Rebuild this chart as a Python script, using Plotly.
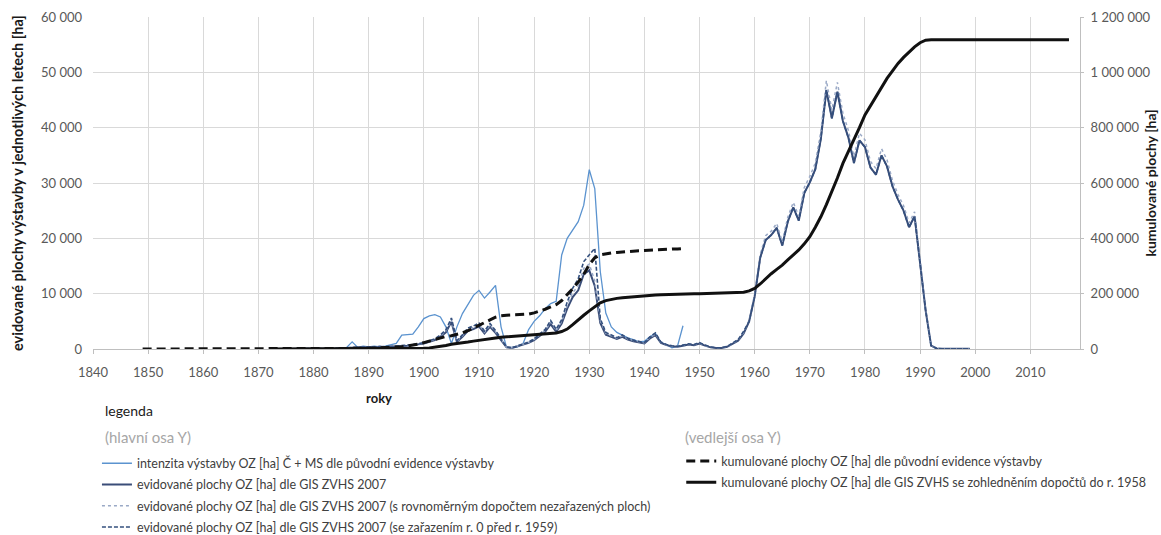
import plotly.graph_objects as go

# ---------------------------------------------------------------------------
# Data: annual areas of reclaimed / drained land (OZ) in hectares
# ---------------------------------------------------------------------------

# intenzita výstavby OZ [ha] Č + MS dle původní evidence výstavby (1885–1947)
years_orig = list(range(1885, 1948))
intenzita_orig = [
    0, 300, 1300, 300, 500,
    400, 500, 400, 500, 700, 1000, 2500, 2600, 2700, 4000,
    5500, 6000, 6200, 5800, 4000, 1000, 4000, 6400, 8000, 9700,
    10600, 9200, 10300, 11500, 4000, 300, 300, 400, 1000, 3500,
    5000, 6000, 7300, 8200, 8600, 17000, 20000, 21500, 23000, 26000,
    32400, 29000, 14000, 6500, 4000, 3000, 2500, 2000, 1700, 1300,
    1400, 2200, 2800, 1200, 800, 200, 500, 4200,
]

# GIS ZVHS 2007 based series (1872–1999)
years_gis = list(range(1872, 2000))
gis_2007 = [
    0, 0, 0, 0, 0, 0, 0, 0,
    0, 0, 50, 100, 100, 150, 200, 250, 200, 300,
    350, 300, 400, 350, 400, 500, 450, 600, 700, 800,
    1000, 1300, 1600, 2200, 3000, 4900, 1300, 2200, 3300, 3600,
    4100, 2800, 4000, 2900, 1700, 300, 200, 500, 800, 1100,
    1600, 2300, 3100, 4500, 3100, 4600, 7300, 9400, 10600, 13500,
    14200, 11400, 4700, 2600, 2200, 1800, 2200, 1700, 1400, 1200,
    1000, 1900, 2500, 1100, 700, 500, 400, 600, 800, 700,
    1000, 600, 300, 200, 200, 400, 900, 1500, 2800, 5000,
    9500, 16500, 19700, 20600, 21900, 18700, 23000, 25600, 23200, 28200,
    30100, 32500, 38000, 46800, 41700, 46500, 41200, 38200, 33600, 37700,
    36500, 32800, 31500, 35000, 33000, 29400, 27000, 25000, 22000, 24000,
    15500, 7000, 600, 100, 50, 50, 50, 50, 50, 50,
]
gis_2007_dopocet = [
    0, 0, 0, 0, 0, 0, 0, 0,
    0, 0, 60, 110, 110, 160, 220, 270, 220, 320,
    380, 330, 430, 380, 430, 540, 490, 650, 760, 860,
    1080, 1400, 1730, 2380, 3240, 5300, 1400, 2380, 3560, 3890,
    4430, 3020, 4320, 3130, 1840, 320, 220, 540, 860, 1190,
    1730, 2480, 3350, 4860, 3350, 4970, 7880, 10150, 11450, 14580,
    15340, 12310, 5080, 2810, 2380, 1940, 2380, 1840, 1510, 1300,
    1080, 2050, 2700, 1190, 760, 540, 430, 650, 860, 760,
    1080, 650, 320, 220, 220, 430, 970, 1620, 3020, 5200,
    9900, 17100, 20500, 21300, 22700, 19400, 23800, 26500, 24000, 29200,
    31200, 33600, 39300, 48500, 43200, 48200, 42600, 39500, 34800, 39000,
    37800, 33900, 32600, 36200, 34200, 30400, 27900, 25900, 22800, 24800,
    16000, 7200, 620, 100, 50, 50, 50, 50, 50, 50,
]
gis_2007_rok0 = [
    0, 0, 0, 0, 0, 0, 0, 0,
    0, 0, 60, 110, 120, 170, 230, 290, 230, 340,
    400, 350, 460, 400, 460, 580, 520, 690, 800, 920,
    1150, 1500, 1850, 2550, 3450, 5600, 1500, 2550, 3800, 4150,
    4700, 3250, 4600, 3350, 1950, 350, 230, 580, 920, 1250,
    1850, 2650, 3550, 5150, 3550, 5300, 8500, 11000, 12700, 15800,
    17000, 18200, 5500, 3000, 2550, 2050, 2550, 1950, 1600, 1400,
    1150, 2200, 2900, 1250, 800, 580, 460, 700, 920, 800,
    1150, 700, 350, 230, 230, 460, 1050, 1700, 3200, 5000,
    9500, 16500, 19700, 20600, 21900, 18700, 23000, 25600, 23200, 28200,
    30100, 32500, 38000, 46800, 41700, 46500, 41200, 38200, 33600, 37700,
    36500, 32800, 31500, 35000, 33000, 29400, 27000, 25000, 22000, 24000,
    15500, 7000, 600, 100, 50, 50, 50, 50, 50, 50,
]

# kumulované plochy OZ [ha] dle původní evidence výstavby (1849–1947)
years_cum_orig = list(range(1849, 1948))
kum_orig = [
    0,
    0, 0, 0, 0, 0, 0, 0, 0, 0, 0,
    0, 0, 0, 0, 0, 0, 0, 0, 0, 0,
    0, 0, 0, 0, 0, 0, 0, 0, 0, 0,
    0, 0, 0, 0, 0, 0, 300, 1600, 1900, 2400,
    2800, 3300, 3700, 4200, 4900, 5900, 8400, 11000, 13700, 17700,
    23200, 29200, 35400, 41200, 45200, 48000, 52000, 58000, 66000, 75000,
    86000, 95000, 105000, 115000, 120000, 122000, 122500, 123000, 124000, 126000,
    130400, 136400, 143700, 151900, 160500, 175000, 195000, 218000, 242000, 270000,
    305000, 330000, 340000, 344000, 347000, 349000, 351000, 352500, 354000, 355000,
    356000, 357500, 359000, 360000, 360500, 361000, 361500, 363000,
]

# kumulované plochy OZ [ha] dle GIS ZVHS se zohledněním dopočtů (1872–2017)
years_cum_gis = list(range(1872, 2018))
kum_gis = [
    0, 0, 0, 0, 0, 0, 0, 0,
    0, 0, 0, 0, 0, 0, 100, 300, 400, 500,
    600, 700, 800, 900, 1000, 1200, 1400, 1600, 1800, 2100,
    2500, 4000, 6000, 9000, 12500, 17000, 19000, 21500, 25000, 28500,
    32000, 34500, 37500, 40000, 42500, 44000, 44500, 45500, 46500, 48000,
    49500, 51000, 53000, 55500, 58000, 63000, 72000, 88000, 106000, 122000,
    138000, 154000, 167000, 175000, 180000, 183000, 185500, 187500, 189000, 190500,
    192000, 193500, 195000, 196000, 197000, 197500, 198000, 198500, 199000, 199500,
    200000, 200300, 200600, 200900, 201200, 201600, 202200, 203200, 205000, 210000,
    219000, 235000, 255000, 272000, 288000, 303000, 322000, 340000, 358000, 380000,
    406000, 440000, 478000, 522000, 568000, 618000, 671000, 713000, 755000, 800000,
    846000, 880000, 912000, 945000, 978000, 1005000, 1032000, 1054000, 1074000, 1092000,
    1107000, 1116000, 1118000, 1118000, 1118000, 1118000, 1118000, 1118000, 1118000, 1118000,
    1118000, 1118000, 1118000, 1118000, 1118000, 1118000, 1118000, 1118000, 1118000, 1118000,
    1118000, 1118000, 1118000, 1118000, 1118000, 1118000, 1118000, 1118000,
]

# Axis ticks
x_ticks = list(range(1840, 2011, 10))
y_ticks = [0, 10000, 20000, 30000, 40000, 50000, 60000]
y_ticktext = ["0", "10 000", "20 000", "30 000", "40 000", "50 000", "60 000"]
y2_ticks = [0, 200000, 400000, 600000, 800000, 1000000, 1200000]
y2_ticktext = ["0", "200 000", "400 000", "600 000", "800 000", "1 000 000", "1 200 000"]

FONT = "Lato, 'Open Sans', sans-serif"
TICK_GREY = "#595959"
GRID = "#d9d9d9"

fig = go.Figure()

fig.add_trace(go.Scatter(
    x=years_orig, y=intenzita_orig, mode="lines",
    name="intenzita výstavby OZ [ha] Č + MS dle původní evidence výstavby",
    line=dict(color="#5b93cf", width=1.3),
    legend="legend", legendgroup="a",
))
fig.add_trace(go.Scatter(
    x=years_gis, y=gis_2007, mode="lines",
    name="evidované plochy OZ [ha] dle GIS ZVHS 2007",
    line=dict(color="#3a4d78", width=2),
    legend="legend", legendgroup="b",
))
fig.add_trace(go.Scatter(
    x=years_gis, y=gis_2007_dopocet, mode="lines",
    name="evidované plochy OZ [ha] dle GIS ZVHS 2007 (s rovnoměrným dopočtem nezařazených ploch)",
    line=dict(color="#9aa9c6", width=1.5, dash="dot"),
    legend="legend", legendgroup="c",
))
fig.add_trace(go.Scatter(
    x=years_gis, y=gis_2007_rok0, mode="lines",
    name="evidované plochy OZ [ha] dle GIS ZVHS 2007 (se zařazením r. 0 před r. 1959)",
    line=dict(color="#34507e", width=1.6, dash="4px,2px"),
    legend="legend", legendgroup="d",
))
fig.add_trace(go.Scatter(
    x=years_cum_orig, y=kum_orig, mode="lines", yaxis="y2",
    name="kumulované plochy OZ [ha] dle původní evidence výstavby",
    line=dict(color="#111111", width=3, dash="9px,5px"),
    legend="legend2", legendgroup="e",
))
fig.add_trace(go.Scatter(
    x=years_cum_gis, y=kum_gis, mode="lines", yaxis="y2",
    name="kumulované plochy OZ [ha] dle GIS ZVHS se zohledněním dopočtů do r. 1958",
    line=dict(color="#111111", width=3),
    legend="legend2", legendgroup="f",
))

legend_common = dict(
    orientation="v", xanchor="left", yanchor="top",
    font=dict(family=FONT, size=12.5, color="#404040"),
    bgcolor="rgba(0,0,0,0)", borderwidth=0,
    traceorder="grouped", tracegroupgap=2, itemwidth=30,
)

fig.update_layout(
    width=1161, height=535,
    margin=dict(l=93, r=81, t=17, b=186, autoexpand=False),
    paper_bgcolor="white", plot_bgcolor="white",
    font=dict(family=FONT, size=13, color=TICK_GREY),
    showlegend=True,
    legend=dict(x=0.004, y=-0.300, **legend_common),
    legend2=dict(x=0.596, y=-0.293, **legend_common),
    xaxis=dict(
        range=[1840, 2019], tickvals=x_ticks,
        showgrid=True, gridcolor=GRID, gridwidth=1,
        showline=True, linecolor="#bfbfbf", linewidth=1,
        ticks="outside", ticklen=4, tickcolor="#bfbfbf",
        ticklabelstandoff=7, zeroline=False,
        tickfont=dict(family=FONT, size=13, color=TICK_GREY),
    ),
    yaxis=dict(
        range=[0, 60000], tickvals=y_ticks, ticktext=y_ticktext,
        showgrid=True, gridcolor=GRID, gridwidth=1,
        showline=False, zeroline=False, ticks="",
        ticklabelstandoff=10,
        tickfont=dict(family=FONT, size=13, color=TICK_GREY),
    ),
    yaxis2=dict(
        range=[0, 1200000], tickvals=y2_ticks, ticktext=y2_ticktext,
        overlaying="y", side="right", showgrid=False,
        showline=True, linecolor="#bfbfbf", linewidth=1,
        zeroline=False, ticks="outside", ticklen=3, tickcolor="#bfbfbf",
        ticklabelstandoff=4,
        tickfont=dict(family=FONT, size=13, color=TICK_GREY),
    ),
    annotations=[
        dict(text="<b>evidované plochy výstavby v jednotlivých letech [ha]</b>",
             xref="paper", yref="paper", x=-0.077, y=0.5, textangle=-90,
             xanchor="center", yanchor="middle", showarrow=False,
             font=dict(family=FONT, size=14.5, color="#1a1a1a")),
        dict(text="<b>kumulované plochy [ha]</b>",
             xref="paper", yref="paper", x=1.0705, y=0.5, textangle=-90,
             xanchor="center", yanchor="middle", showarrow=False,
             font=dict(family=FONT, size=14, color="#1a1a1a")),
        dict(text="<b>roky</b>", xref="paper", yref="paper",
             x=0.29, y=-0.148, xanchor="center", yanchor="middle", showarrow=False,
             font=dict(family=FONT, size=13, color="#1a1a1a")),
        dict(text="legenda", xref="paper", yref="paper",
             x=0.010, y=-0.185, xanchor="left", yanchor="middle", showarrow=False,
             font=dict(family=FONT, size=14, color="#1a1a1a")),
        dict(text="(hlavní osa Y)", xref="paper", yref="paper",
             x=0.010, y=-0.265, xanchor="left", yanchor="middle", showarrow=False,
             font=dict(family=FONT, size=15, color="#a6a6a6")),
        dict(text="(vedlejší osa Y)", xref="paper", yref="paper",
             x=0.598, y=-0.265, xanchor="left", yanchor="middle", showarrow=False,
             font=dict(family=FONT, size=15, color="#a6a6a6")),
    ],
)

fig.write_html("out.html")
